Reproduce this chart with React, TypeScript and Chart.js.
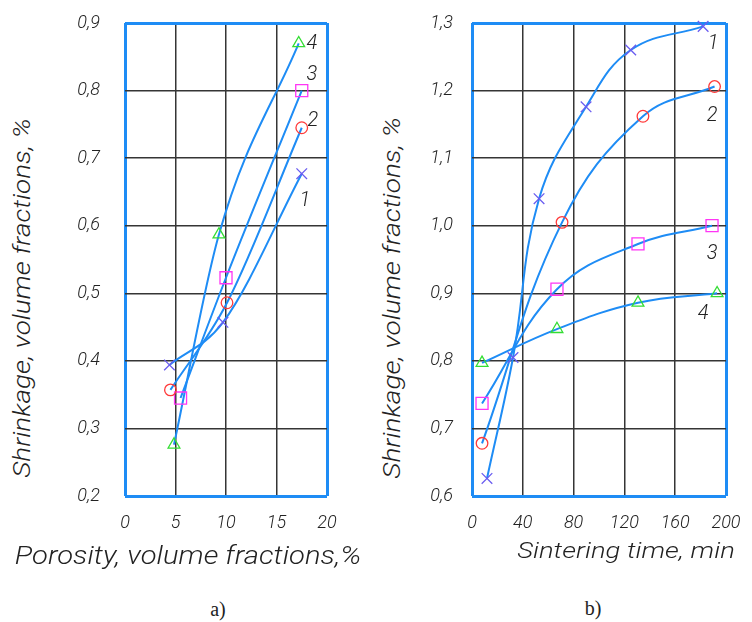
import React, { useEffect, useLayoutEffect, useRef } from 'react';
import { Chart, registerables } from 'chart.js';

Chart.register(...registerables);

// ---------- data: chart a) ----------
const porosityTicksMin = 0;
const porosityTicksMax = 20;
const porosityStep = 5;
const shrinkATicksMin = 0.2;
const shrinkATicksMax = 0.9;

const porosity1 = [4.4, 9.7, 17.5];
const shrinkA1 = [0.394, 0.457, 0.677];
const porosity2 = [4.5, 10.1, 17.5];
const shrinkA2 = [0.357, 0.486, 0.745];
const porosity3 = [5.5, 10.0, 17.5];
const shrinkA3 = [0.345, 0.523, 0.8];
const porosity4 = [4.85, 9.3, 17.2];
const shrinkA4 = [0.276, 0.587, 0.87];

const curveNamesA = ['1', '2', '3', '4'];
const curveNameXA = [17.8, 18.6, 18.5, 18.5];
const curveNameYA = [0.636, 0.755, 0.823, 0.869];

// ---------- data: chart b) ----------
const timeTicksMin = 0;
const timeTicksMax = 200;
const timeStep = 40;
const shrinkBTicksMin = 0.6;
const shrinkBTicksMax = 1.3;

const time1 = [11.8, 32.3, 52.8, 89.8, 125, 182];
const shrinkB1 = [0.626, 0.805, 1.04, 1.176, 1.26, 1.295];
const time2 = [7.9, 70.9, 134.6, 191];
const shrinkB2 = [0.678, 1.005, 1.162, 1.206];
const time3 = [7.9, 66.9, 130.7, 189];
const shrinkB3 = [0.737, 0.906, 0.973, 1.0];
const time4 = [7.9, 66.9, 130.7, 193];
const shrinkB4 = [0.797, 0.847, 0.886, 0.9];

const curveNamesB = ['1', '2', '3', '4'];
const curveNameXB = [189.8, 189, 189, 182];
const curveNameYB = [1.269, 1.162, 0.958, 0.869];

// ---------- texts ----------
const yTitle = 'Shrinkage, volume fractions, %';
const xTitleA = 'Porosity, volume fractions,%';
const xTitleB = 'Sintering time, min';
const captionA = 'a)';
const captionB = 'b)';

// ---------- styles ----------
const BLUE = '#1e8cf5';
const GRID = '#353535';
const TEXT = '#222222';
const FAMILY = 'Roboto, "DejaVu Sans Condensed", sans-serif';

const markerStyles = [
  { pointStyle: 'crossRot', color: '#6a5cf0', radius: 7.5 },
  { pointStyle: 'circle', color: '#ff3a3a', radius: 5.8 },
  { pointStyle: 'rect', color: '#ff35f5', radius: 8.5 },
  { pointStyle: 'triangle', color: '#33dd33', radius: 6.8 },
];

function makeDataset(xs: number[], ys: number[], idx: number, smooth: 'monotone' | 'default') {
  const m = markerStyles[idx];
  return {
    data: xs.map((x, i) => ({ x, y: ys[i] })),
    showLine: true,
    borderColor: BLUE,
    borderWidth: 2,
    cubicInterpolationMode: smooth,
    tension: 0.4,
    pointStyle: m.pointStyle,
    pointRadius: m.radius,
    pointBorderColor: m.color,
    pointBackgroundColor: 'rgba(0,0,0,0)',
    pointBorderWidth: 1.3,
    clip: false,
  };
}

function labelPlugin(names: string[], xs: number[], ys: number[]) {
  return {
    id: 'curveNames',
    afterDatasetsDraw(chart: any) {
      const { ctx, scales } = chart;
      ctx.save();
      ctx.font = 'italic 300 20px ' + FAMILY;
      ctx.fillStyle = TEXT;
      ctx.textAlign = 'center';
      ctx.textBaseline = 'middle';
      names.forEach((n, i) => {
        ctx.fillText(n, scales.x.getPixelForValue(xs[i]), scales.y.getPixelForValue(ys[i]));
      });
      ctx.restore();
    },
  };
}

const near = (a: number, b: number) => Math.abs(a - b) < 1e-6;

function gridFor(min: number, max: number, gap: number) {
  return {
    color: (c: any) => (c.tick && (near(c.tick.value, min) || near(c.tick.value, max)) ? BLUE : GRID),
    lineWidth: (c: any) => (c.tick && (near(c.tick.value, min) || near(c.tick.value, max)) ? 3 : 1.5),
    drawTicks: true,
    tickLength: gap,
    tickColor: 'rgba(0,0,0,0)',
  };
}

const tickFont = { family: FAMILY, size: 18, style: 'italic' as const, weight: 300 as any };

function makeConfig(
  datasets: any[],
  xMin: number, xMax: number, xStep: number,
  yMin: number, yMax: number,
  yAxisWidth: number, yGap: number, rightPad: number,
  plugin: any,
) {
  return {
    type: 'scatter' as const,
    data: { datasets },
    options: {
      animation: false,
      responsive: false,
      maintainAspectRatio: false,
      layout: { padding: { top: 23, right: rightPad, bottom: 0, left: 0 } },
      plugins: { legend: { display: false }, tooltip: { enabled: false } },
      scales: {
        x: {
          type: 'linear',
          min: xMin,
          max: xMax,
          ticks: {
            stepSize: xStep,
            padding: 0,
            autoSkip: false,
            maxRotation: 0,
            color: TEXT,
            font: tickFont,
            callback: (v: any) => String(v),
          },
          grid: gridFor(xMin, xMax, 17),
          border: { display: false },
          afterFit: (s: any) => { s.height = 64; },
        },
        y: {
          type: 'linear',
          min: yMin,
          max: yMax,
          ticks: {
            stepSize: 0.1,
            padding: 0,
            autoSkip: false,
            color: TEXT,
            font: tickFont,
            callback: (v: any) => Number(v).toFixed(1).replace('.', ','),
          },
          grid: gridFor(yMin, yMax, yGap),
          border: { display: false },
          afterFit: (s: any) => { s.width = yAxisWidth; },
        },
      },
    },
    plugins: [plugin],
  };
}

function ChartCanvas({ config, left, width, height }: any) {
  const ref = useRef<HTMLCanvasElement>(null);
  useEffect(() => {
    if (!ref.current) return;
    const chart = new Chart(ref.current, config);
    return () => chart.destroy();
  }, []);
  return (
    <canvas
      ref={ref}
      width={width}
      height={height}
      style={{ position: 'absolute', left, top: 0, width, height }}
    />
  );
}

function FitText({ text, cx, cy, length, size, rotate, family, italic, weight }: any) {
  const ref = useRef<HTMLSpanElement>(null);
  useLayoutEffect(() => {
    const el = ref.current;
    if (!el) return;
    const apply = () => {
      el.style.transform = 'translate(-50%, -50%)';
      const w = el.offsetWidth;
      const s = length && w ? length / w : 1;
      el.style.transform = `translate(-50%, -50%) ${rotate ? 'rotate(-90deg)' : ''} scaleX(${s})`;
    };
    apply();
    if ((document as any).fonts && (document as any).fonts.ready) {
      (document as any).fonts.ready.then(apply);
    }
  }, []);
  return (
    <span
      ref={ref}
      style={{
        position: 'absolute',
        left: cx,
        top: cy,
        whiteSpace: 'nowrap',
        fontSize: size,
        lineHeight: 1,
        fontFamily: family || FAMILY,
        fontStyle: italic === false ? 'normal' : 'italic',
        fontWeight: weight || 300,
        color: TEXT,
      }}
    >
      {text}
    </span>
  );
}

export default function App() {
  const configA = makeConfig(
    [
      makeDataset(porosity1, shrinkA1, 0, 'monotone'),
      makeDataset(porosity2, shrinkA2, 1, 'monotone'),
      makeDataset(porosity3, shrinkA3, 2, 'monotone'),
      makeDataset(porosity4, shrinkA4, 3, 'monotone'),
    ],
    porosityTicksMin, porosityTicksMax, porosityStep,
    shrinkATicksMin, shrinkATicksMax,
    65, 25, 33,
    labelPlugin(curveNamesA, curveNameXA, curveNameYA),
  );
  const configB = makeConfig(
    [
      makeDataset(time1, shrinkB1, 0, 'default'),
      makeDataset(time2, shrinkB2, 1, 'default'),
      makeDataset(time3, shrinkB3, 2, 'default'),
      makeDataset(time4, shrinkB4, 3, 'default'),
    ],
    timeTicksMin, timeTicksMax, timeStep,
    shrinkBTicksMin, shrinkBTicksMax,
    62, 19, 26,
    labelPlugin(curveNamesB, curveNameXB, curveNameYB),
  );

  return (
    <div style={{ position: 'absolute', left: 0, top: 0, width: 752, height: 622, background: '#fff', overflow: 'hidden' }}>
      <ChartCanvas config={configA} left={60} width={300} height={560} />
      <ChartCanvas config={configB} left={410} width={342} height={560} />
      <FitText text={yTitle} cx={22} cy={298} length={360} size={24} rotate />
      <FitText text={yTitle} cx={392} cy={298} length={362} size={24} rotate />
      <FitText text={xTitleA} cx={188} cy={555} length={347} size={25} />
      <FitText text={xTitleB} cx={626} cy={551} length={217} size={22} />
      <FitText text={captionA} cx={218} cy={609} size={20} family={'"Liberation Serif", "Times New Roman", serif'} italic={false} weight={400} />
      <FitText text={captionB} cx={593} cy={608} size={20} family={'"Liberation Serif", "Times New Roman", serif'} italic={false} weight={400} />
    </div>
  );
}
